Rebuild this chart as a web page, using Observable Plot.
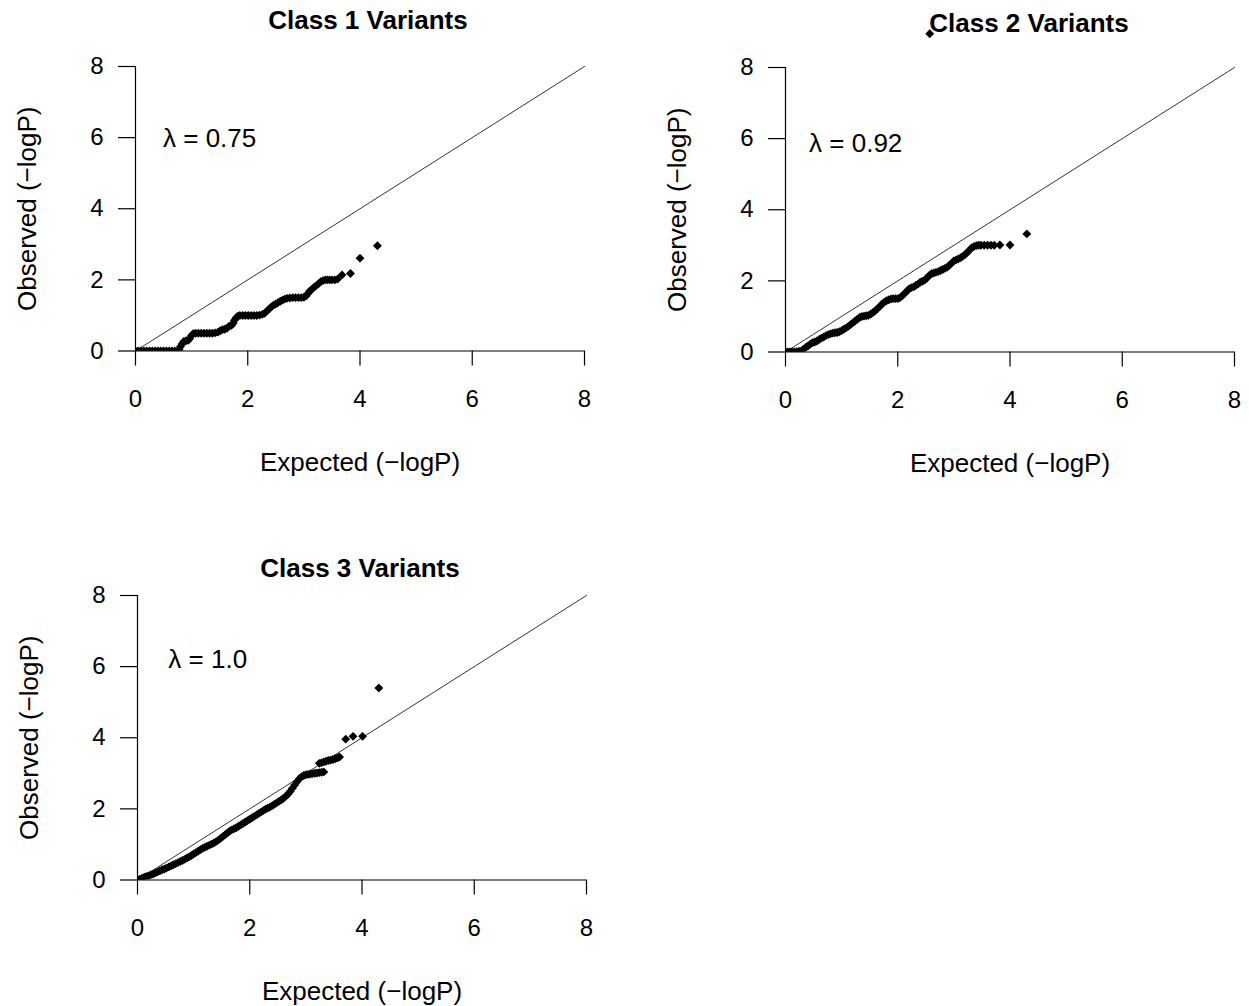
<!DOCTYPE html>
<html><head><meta charset="utf-8">
<script src="https://cdn.jsdelivr.net/npm/d3@7"></script>
<script src="https://cdn.jsdelivr.net/npm/@observablehq/plot@0.6"></script>
<style>
html,body{margin:0;padding:0;background:#fff;}
#chart{position:relative;width:1249px;height:1006px;overflow:hidden;background:#fff;}
#chart svg{position:absolute;}
</style></head><body><div id="chart"></div>
<script>
// ---------- data ----------
const axisTicks = [0, 2, 4, 6, 8];
const diagonal = [0, 8];
const titles = ["Class 1 Variants", "Class 2 Variants", "Class 3 Variants"];
const lambdaLabels = ["λ = 0.75", "λ = 0.92", "λ = 1.0"];
const xLabel = "Expected (−logP)";
const yLabel = "Observed (−logP)";

const class1Expected = [0.00,0.05,0.10,0.15,0.20,0.25,0.30,0.35,0.40,0.45,0.50,0.55,0.60,0.65,0.70,0.75,
  0.78,0.80,0.83,0.86,0.90,0.94,0.97,1.00,1.03,1.07,1.12,1.17,1.22,1.27,1.32,1.37,1.42,1.47,1.51,1.55,
  1.59,1.63,1.67,1.71,1.74,1.76,1.79,1.82,1.86,1.91,1.96,2.01,2.06,2.11,2.16,2.21,2.26,2.30,2.34,2.38,
  2.42,2.46,2.50,2.54,2.58,2.62,2.66,2.70,2.75,2.80,2.85,2.90,2.95,3.00,3.04,3.07,3.10,3.14,3.18,3.22,
  3.26,3.30,3.34,3.38,3.42,3.46,3.50,3.55,3.60,3.68,3.83,4.00,4.31];
const class1Observed = [0,0,0,0,0,0,0,0,0,0,0,0,0,0,0,0,
  0.03,0.12,0.20,0.27,0.29,0.30,0.36,0.44,0.49,0.50,0.50,0.50,0.50,0.50,0.50,0.50,0.51,0.53,0.57,0.60,
  0.61,0.64,0.70,0.72,0.78,0.86,0.93,0.98,1.00,1.00,1.00,1.00,1.00,1.00,1.00,1.01,1.03,1.06,1.12,1.18,
  1.24,1.29,1.32,1.36,1.40,1.43,1.46,1.48,1.49,1.50,1.50,1.50,1.50,1.51,1.55,1.61,1.68,1.73,1.79,1.84,
  1.89,1.95,1.98,2.00,2.00,2.00,2.00,2.00,2.02,2.14,2.18,2.61,2.96];

const class2Expected = [0.00,0.04,0.08,0.12,0.16,0.20,0.24,0.28,0.32,0.36,0.40,0.44,0.48,0.52,0.56,0.60,
  0.64,0.68,0.72,0.76,0.80,0.84,0.88,0.92,0.96,1.00,1.04,1.08,1.12,1.16,1.20,1.24,1.28,1.32,1.36,1.40,
  1.44,1.48,1.52,1.56,1.60,1.64,1.68,1.72,1.76,1.80,1.84,1.88,1.92,1.96,2.00,2.04,2.08,2.12,2.16,2.20,
  2.24,2.28,2.32,2.36,2.40,2.44,2.48,2.52,2.56,2.60,2.64,2.68,2.72,2.76,2.80,2.84,2.88,2.92,2.96,3.00,
  3.04,3.08,3.12,3.16,3.20,3.24,3.28,3.32,3.36,3.40,3.44,3.48,3.54,3.60,3.66,3.72,3.82,4.00,4.30];
const class2Observed = [0.00,0.00,0.00,0.00,0.00,0.01,0.02,0.03,0.08,0.13,0.17,0.22,0.26,0.28,0.31,0.35,
  0.39,0.42,0.46,0.49,0.51,0.53,0.54,0.55,0.57,0.60,0.64,0.68,0.72,0.77,0.82,0.87,0.92,0.97,1.00,1.01,
  1.02,1.03,1.07,1.11,1.16,1.22,1.28,1.35,1.40,1.44,1.47,1.49,1.50,1.50,1.50,1.53,1.58,1.64,1.71,1.77,
  1.81,1.83,1.87,1.91,1.96,1.99,2.02,2.08,2.15,2.20,2.22,2.24,2.26,2.29,2.32,2.35,2.38,2.44,2.50,2.56,
  2.59,2.62,2.65,2.69,2.74,2.80,2.87,2.93,2.97,2.99,3.00,3.00,3.00,3.00,3.00,3.00,3.01,3.01,3.32];
const class2StrayExpected = [2.57];
const class2StrayObserved = [8.95];

const class3Expected = [0.00,0.04,0.08,0.12,0.16,0.20,0.24,0.28,0.32,0.36,0.40,0.44,0.48,0.52,0.56,0.60,
  0.64,0.68,0.72,0.76,0.80,0.84,0.88,0.92,0.96,1.00,1.04,1.08,1.12,1.16,1.20,1.24,1.28,1.32,1.36,1.40,
  1.44,1.48,1.52,1.56,1.60,1.64,1.68,1.72,1.76,1.80,1.84,1.88,1.92,1.96,2.00,2.04,2.08,2.12,2.16,2.20,
  2.24,2.28,2.32,2.36,2.40,2.44,2.48,2.52,2.56,2.60,2.64,2.68,2.72,2.76,2.80,2.84,2.88,2.92,2.96,3.00,
  3.04,3.08,3.12,3.16,3.20,3.24,3.28,3.32,
  3.24,3.28,3.32,3.36,3.40,3.44,3.48,3.52,3.56,3.60,3.71,3.84,4.01,4.30];
const class3Observed = [0.00,0.02,0.05,0.08,0.10,0.12,0.15,0.17,0.20,0.23,0.26,0.29,0.31,0.34,0.37,0.40,
  0.43,0.46,0.49,0.52,0.55,0.58,0.62,0.65,0.69,0.73,0.77,0.81,0.85,0.89,0.92,0.95,0.98,1.01,1.04,1.08,
  1.12,1.17,1.22,1.27,1.32,1.37,1.41,1.44,1.47,1.51,1.55,1.59,1.63,1.67,1.71,1.75,1.79,1.83,1.87,1.91,
  1.95,1.99,2.02,2.05,2.09,2.13,2.17,2.21,2.25,2.30,2.35,2.41,2.49,2.58,2.67,2.76,2.84,2.90,2.94,2.96,
  2.97,2.98,2.99,3.00,3.01,3.02,3.03,3.04,
  3.28,3.30,3.32,3.34,3.36,3.37,3.39,3.41,3.43,3.46,3.96,4.04,4.04,5.40];

// ---------- layout (not data) ----------
const FONT = "'Liberation Sans', Arial, Helvetica, sans-serif";
const panels = [
  {title: titles[0], label: lambdaLabels[0], ex: class1Expected, ob: class1Observed, sx: [], sy: [],
   left: -0.5, top: 0, titleDx: 8, titleDy: -46, lx: 0.49, ly: 5.97},
  {title: titles[1], label: lambdaLabels[1], ex: class2Expected, ob: class2Observed, sx: class2StrayExpected, sy: class2StrayObserved,
   left: 649.5, top: 1, titleDx: 19, titleDy: -44, lx: 0.42, ly: 5.86},
  {title: titles[2], label: lambdaLabels[2], ex: class3Expected, ob: class3Observed, sx: [], sy: [],
   left: 2, top: 528.5, titleDx: -2, titleDy: -26.5, lx: 0.55, ly: 6.2}
];

const chart = document.getElementById("chart");
for (const p of panels) {
  if (p.ex.length !== p.ob.length) console.error("length mismatch", p.title, p.ex.length, p.ob.length);
  const n = Math.min(p.ex.length, p.ob.length);
  const idx = d3.range(n);
  const sidx = d3.range(p.sx.length);
  const svg = Plot.plot({
    width: 624, height: 480.5,
    marginLeft: 135, marginTop: 66, marginRight: 40, marginBottom: 130,
    x: {domain: [0, 8]},
    y: {domain: [0, 8]},
    style: {fontFamily: FONT, fontSize: "24px", color: "black", background: "transparent", overflow: "visible"},
    marks: [
      Plot.line(diagonal, {x: d => d, y: d => d, stroke: "#333", strokeWidth: 1}),
      Plot.dot(idx, {x: i => p.ex[i], y: i => p.ob[i], symbol: "diamond2", r: 4, fill: "black", stroke: "none", clip: true}),
      Plot.dot(sidx, {x: i => p.sx[i], y: i => p.sy[i], symbol: "diamond2", r: 4, fill: "black", stroke: "none"}),
      Plot.ruleX([0], {stroke: "black", strokeWidth: 1.2}),
      Plot.ruleY([0], {stroke: "black", strokeWidth: 1.2}),
      Plot.axisX({ticks: axisTicks, tickSize: 15, tickPadding: 24, fontSize: 24, label: null, stroke: "black", strokeWidth: 1.2}),
      Plot.axisY({ticks: axisTicks, tickSize: 17, tickPadding: 15, fontSize: 24, label: null, stroke: "black", strokeWidth: 1.2}),
      Plot.text([p.label], {x: () => p.lx, y: () => p.ly, text: d => d, textAnchor: "start", lineAnchor: "middle", fontSize: 26, fill: "black"}),
      Plot.text([p.title], {frameAnchor: "top", text: d => d, textAnchor: "middle", lineAnchor: "middle", dx: p.titleDx, dy: p.titleDy, fontSize: 26, fontWeight: "bold", fill: "black"}),
      Plot.text([yLabel], {frameAnchor: "left", text: d => d, textAnchor: "middle", lineAnchor: "middle", rotate: -90, dx: -108, fontSize: 26, fill: "black"}),
      Plot.text([xLabel], {frameAnchor: "bottom", text: d => d, textAnchor: "middle", lineAnchor: "middle", dy: 112, fontSize: 26, fill: "black"})
    ]
  });
  svg.style.left = p.left + "px";
  svg.style.top = p.top + "px";
  chart.appendChild(svg);
}
</script></body></html>
